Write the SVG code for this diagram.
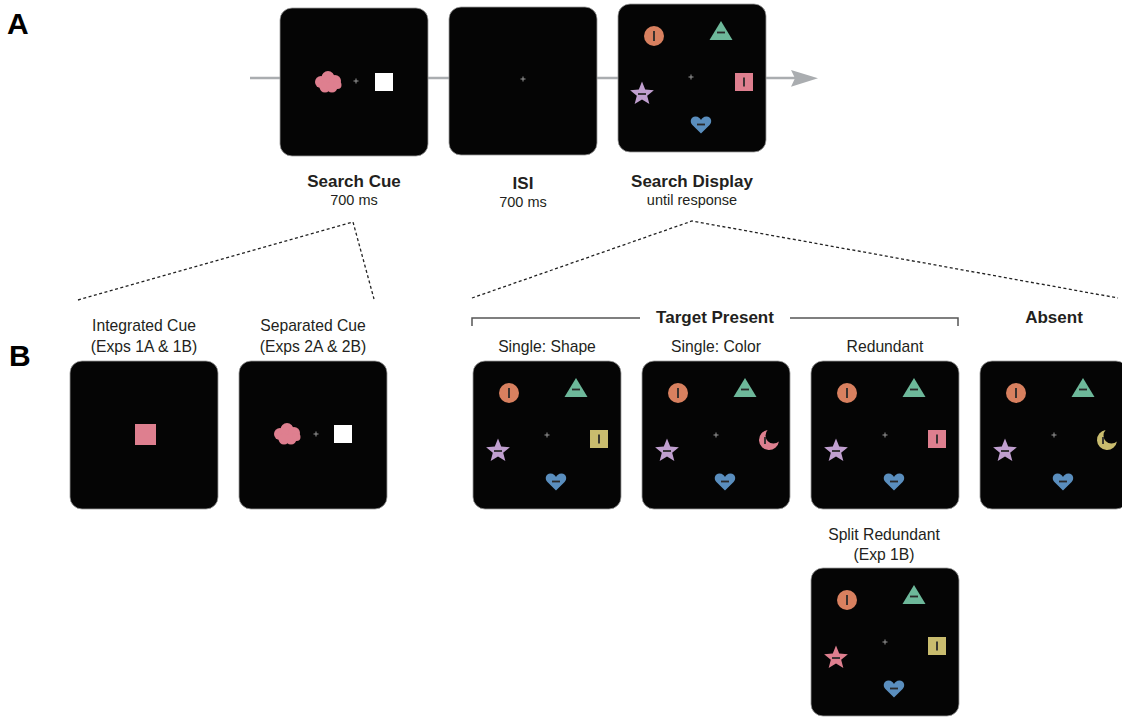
<svg xmlns="http://www.w3.org/2000/svg" xmlns:xlink="http://www.w3.org/1999/xlink" width="1122" height="717" viewBox="0 0 1122 717">
<style>
.scr{fill:#050505;stroke:#9a9a9a;stroke-width:0.8}
.mk{stroke:#2a2a2a;stroke-width:1.8;fill:none}
.lbl{font-family:"Liberation Sans",Arial,sans-serif;fill:#231f20;text-anchor:middle}
.b{font-weight:bold;font-size:17px}
.s{font-size:14.5px}
.r{font-size:15.7px}
.big{font-family:"Liberation Sans",Arial,sans-serif;font-weight:bold;font-size:30px;fill:#000}
.dash{stroke:#222;stroke-width:1.3;stroke-dasharray:3 2.5;fill:none}
.o{fill:#d8805f}.g{fill:#6db89a}.p{fill:#c09fcf}.bl{fill:#5a8ebe}.pk{fill:#de7f8f}.y{fill:#c9bc6e}.w{fill:#ffffff}
</style>
<defs>
<g id="circ"><circle r="10"/><line class="mk" x1="0" y1="-5" x2="0" y2="5"/></g>
<g id="tri"><polygon points="0,-10 11.5,9 -11.5,9"/><line class="mk" x1="-4" y1="1.5" x2="4" y2="1.5"/></g>
<g id="sq"><rect x="-9" y="-9" width="18" height="18"/><line class="mk" x1="0" y1="-4.5" x2="0" y2="4.5"/></g>
<g id="star"><polygon points="0,-12.5 3.2,-4.4 11.9,-3.86 5.17,1.68 7.35,10.1 0,5.4 -7.35,10.1 -5.17,1.68 -11.9,-3.86 -3.2,-4.4"/><line class="mk" x1="-4" y1="0" x2="4" y2="0"/></g>
<g id="heart"><path d="M0,8.5 L-8.6,0 C-11.5,-3 -10.5,-8.5 -5.5,-8.5 C-2.5,-8.5 -0.8,-6.5 0,-5 C0.8,-6.5 2.5,-8.5 5.5,-8.5 C10.5,-8.5 11.5,-3 8.6,0 Z"/><line class="mk" x1="-4" y1="-0.5" x2="4" y2="-0.5"/></g>
<g id="moon"><path d="M-1.4,-9.9 A10,10 0 1 0 9.9,1.4 A8,8 0 0 1 -1.4,-9.9 Z"/><line class="mk" x1="-4" y1="-3" x2="-4" y2="4"/></g>
<g id="cloud"><circle cx="-7" cy="0" r="6"/><circle cx="0" cy="-4.5" r="6.5"/><circle cx="7" cy="-1" r="6"/><circle cx="-3" cy="5" r="5.5"/><circle cx="4" cy="5" r="5.5"/><circle cx="9.5" cy="3" r="4"/></g>
<path id="fix" d="M-2.5,0H2.5M0,-2.5V2.5" stroke="#9a9a9a" stroke-width="1" fill="none"/>
<rect id="screen" class="scr" x="0" y="0" width="148" height="148" rx="12"/>
</defs>

<text class="big" x="7" y="34">A</text>
<text class="big" x="9" y="366">B</text>

<g id="connectors">
<line x1="250" y1="78" x2="796" y2="78" stroke="#aaadb0" stroke-width="2.5"/>
<polygon points="791,70 818,78.3 791,86.7 795,78.3" fill="#aaadb0"/>
<polyline class="dash" points="78,300 353,222 374,299"/>
<polyline class="dash" points="472,298 692,221 1118,298"/>
<path d="M472,326 V318 H640 M790,318 H958 V326" stroke="#555" stroke-width="1.5" fill="none"/>
</g>

<g id="search-cue" transform="translate(280,8)">
<use href="#screen"/>
<use href="#cloud" x="48" y="74" class="pk"/>
<use href="#fix" x="76" y="73"/>
<rect x="95" y="65" width="18" height="18" class="w"/>
<text class="lbl b" x="74" y="179">Search Cue</text>
<text class="lbl s" x="74" y="197">700 ms</text>
</g>

<g id="isi" transform="translate(449,7)">
<use href="#screen"/>
<use href="#fix" x="74" y="72"/>
<text class="lbl b" x="74" y="182">ISI</text>
<text class="lbl s" x="74" y="200">700 ms</text>
</g>

<g id="search-display" transform="translate(618,4)">
<use href="#screen"/>
<use href="#circ" x="36" y="32" class="o"/>
<use href="#tri" x="103" y="27" class="g"/>
<use href="#fix" x="73" y="73"/>
<use href="#sq" x="126" y="78" class="pk"/>
<use href="#star" x="24" y="90" class="p"/>
<use href="#heart" x="83" y="121" class="bl"/>
<text class="lbl b" x="74" y="183">Search Display</text>
<text class="lbl s" x="74" y="201">until response</text>
</g>

<g id="integrated-cue" transform="translate(70,361)">
<text class="lbl r" x="74" y="-30">Integrated Cue</text>
<text class="lbl r" x="74" y="-9">(Exps 1A &amp; 1B)</text>
<use href="#screen"/>
<rect x="65" y="63" width="21" height="21" class="pk"/>
</g>

<g id="separated-cue" transform="translate(239,361)">
<text class="lbl r" x="74" y="-30">Separated Cue</text>
<text class="lbl r" x="74" y="-9">(Exps 2A &amp; 2B)</text>
<use href="#screen"/>
<use href="#cloud" x="48" y="73" class="pk"/>
<use href="#fix" x="77" y="73"/>
<rect x="95" y="64" width="18" height="18" class="w"/>
</g>

<g id="target-present-label">
<text class="lbl b" x="715" y="323">Target Present</text>
</g>
<g id="absent-label">
<text class="lbl b" x="1054" y="323">Absent</text>
</g>

<g id="single-shape" transform="translate(473,361)">
<text class="lbl r" x="74" y="-9">Single: Shape</text>
<use href="#screen"/>
<use href="#circ" x="36" y="32" class="o"/>
<use href="#tri" x="103" y="27" class="g"/>
<use href="#fix" x="74" y="74"/>
<use href="#sq" x="126" y="78" class="y"/>
<use href="#star" x="25" y="90" class="p"/>
<use href="#heart" x="83" y="121" class="bl"/>
</g>

<g id="single-color" transform="translate(642,361)">
<text class="lbl r" x="74" y="-9">Single: Color</text>
<use href="#screen"/>
<use href="#circ" x="36" y="32" class="o"/>
<use href="#tri" x="103" y="27" class="g"/>
<use href="#fix" x="74" y="74"/>
<use href="#moon" x="127" y="79" class="pk"/>
<use href="#star" x="25" y="90" class="p"/>
<use href="#heart" x="83" y="121" class="bl"/>
</g>

<g id="redundant" transform="translate(811,361)">
<text class="lbl r" x="74" y="-9">Redundant</text>
<use href="#screen"/>
<use href="#circ" x="36" y="32" class="o"/>
<use href="#tri" x="103" y="27" class="g"/>
<use href="#fix" x="74" y="74"/>
<use href="#sq" x="126" y="78" class="pk"/>
<use href="#star" x="25" y="90" class="p"/>
<use href="#heart" x="83" y="121" class="bl"/>
</g>

<g id="absent" transform="translate(980,361)">
<use href="#screen"/>
<use href="#circ" x="36" y="32" class="o"/>
<use href="#tri" x="103" y="27" class="g"/>
<use href="#fix" x="74" y="74"/>
<use href="#moon" x="127" y="79" class="y"/>
<use href="#star" x="25" y="90" class="p"/>
<use href="#heart" x="83" y="121" class="bl"/>
</g>

<g id="split-redundant" transform="translate(811,568)">
<text class="lbl r" x="73" y="-28">Split Redundant</text>
<text class="lbl r" x="73" y="-8">(Exp 1B)</text>
<use href="#screen"/>
<use href="#circ" x="36" y="32" class="o"/>
<use href="#tri" x="103" y="27" class="g"/>
<use href="#fix" x="74" y="74"/>
<use href="#sq" x="126" y="78" class="y"/>
<use href="#star" x="25" y="90" class="pk"/>
<use href="#heart" x="83" y="121" class="bl"/>
</g>
</svg>
